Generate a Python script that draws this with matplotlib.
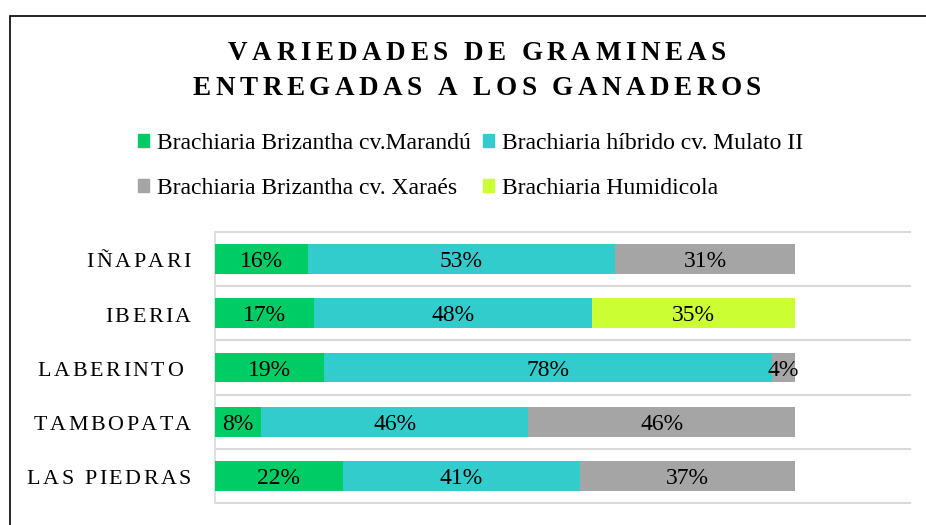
import matplotlib
matplotlib.use("Agg")
import numpy as np
import matplotlib.pyplot as plt
from matplotlib import transforms
from matplotlib.patches import Patch, Rectangle
from matplotlib.font_manager import FontProperties, findfont, get_font

plt.rcParams['font.family'] = ['Liberation Serif', 'DejaVu Serif']

# data
categories = ["IÑAPARI", "IBERIA", "LABERINTO ", "TAMBOPATA", "LAS PIEDRAS"]
series_names = ["Brachiaria Brizantha cv.Marandú",
                "Brachiaria híbrido cv. Mulato II",
                "Brachiaria Brizantha cv. Xaraés",
                "Brachiaria Humidicola"]
marandu = [16, 17, 19, 8, 22]
mulato = [53, 48, 78, 46, 41]
xaraes = [31, 0, 4, 46, 37]
humidicola = [0, 35, 0, 0, 0]
colors = ["#00CC66", "#33CCCC", "#A5A5A5", "#CCFF33"]
title_lines = ["VARIEDADES DE GRAMINEAS", "ENTREGADAS A LOS GANADEROS"]

W, H = 926, 525
fig = plt.figure(figsize=(W / 100, H / 100), dpi=100)


def spaced_text(trans, x, y, s, size, spacing, ha="left", weight="normal", dy=0):
    # draws text with extra letter spacing (points), like Excel's expanded spacing
    font = get_font(findfont(FontProperties(family="Liberation Serif", weight=weight)))
    font.set_size(size, 72)
    adv = [font.load_char(ord(c)).linearHoriAdvance / 65536 for c in s]
    total = sum(adv) + spacing * (len(s) - 1)
    start = {"left": 0, "center": -total / 2, "right": -total}[ha]
    pos = start
    for c, a in zip(s, adv):
        if c != " ":
            t = transforms.offset_copy(trans, fig=fig, x=pos, y=dy, units="points")
            fig.text(x, y, c, transform=t, fontsize=size, fontweight=weight,
                     ha="left", va="baseline")
        pos += a + spacing


# outer frame (only top/left edges visible in the crop)
fig.add_artist(Rectangle((9.5 / W, -0.2), 1.5, 1.2 - 15.5 / H, transform=fig.transFigure,
                         fill=False, edgecolor="black", lw=1.2, clip_on=False))

ax = fig.add_axes([215 / W, 1 - 503 / H, (911 - 215) / W, (503 - 232) / H])

y = np.arange(len(categories))
series = np.array([marandu, mulato, xaraes, humidicola], dtype=float)
totals = series.sum(axis=0)  # 100% stacked
left = np.zeros(len(categories))
for vals, col in zip(series, colors):
    v = vals / totals
    ax.barh(y, v, left=left, height=0.55, color=col, edgecolor="none", zorder=3)
    for yi, (l, w, raw) in enumerate(zip(left, v, vals)):
        if raw > 0:
            ax.text(l + w / 2, yi, f"{raw:.0f}%", ha="center", va="center_baseline",
                    fontsize=17, color="black", zorder=4)
    left += v

ax.set_xlim(0, 1.2)
ax.set_ylim(len(categories) - 0.5, -0.5)
ax.hlines(np.arange(-0.5, len(categories), 1), 0, 1.2, color="#D9D9D9", lw=1.5,
          clip_on=False, zorder=1)
for s in ["top", "right", "bottom"]:
    ax.spines[s].set_visible(False)
ax.spines["left"].set_color("#D9D9D9")
ax.spines["left"].set_linewidth(1.2)
ax.set_xticks([])
ax.set_yticks([])

# category labels with letter spacing
ytrans = transforms.blended_transform_factory(fig.transFigure, ax.transData)
for i, cat in enumerate(categories):
    spaced_text(ytrans, 191 / W, i, cat, 15.8, 1.9, ha="right", dy=-6.0)

# title
spaced_text(fig.transFigure, 477 / W, 1 - 60 / H, title_lines[0], 19.5, 3.25,
            ha="center", weight="bold")
spaced_text(fig.transFigure, 477 / W, 1 - 95 / H, title_lines[1], 19.5, 3.25,
            ha="center", weight="bold")

# legend (row-major order -> column-major for matplotlib)
handles = [Patch(color=c, label=n) for c, n in zip(colors, series_names)]
order = [0, 2, 1, 3]
fig.legend([handles[i] for i in order], [series_names[i] for i in order],
           ncol=2, loc="upper left", bbox_to_anchor=(138 / W, 1 - 133 / H),
           frameon=False, fontsize=17, handlelength=0.47, handleheight=0.47,
           handletextpad=0.34, columnspacing=0.5, labelspacing=1.0,
           borderpad=0, borderaxespad=0)

fig.savefig("out.png", dpi=100)
